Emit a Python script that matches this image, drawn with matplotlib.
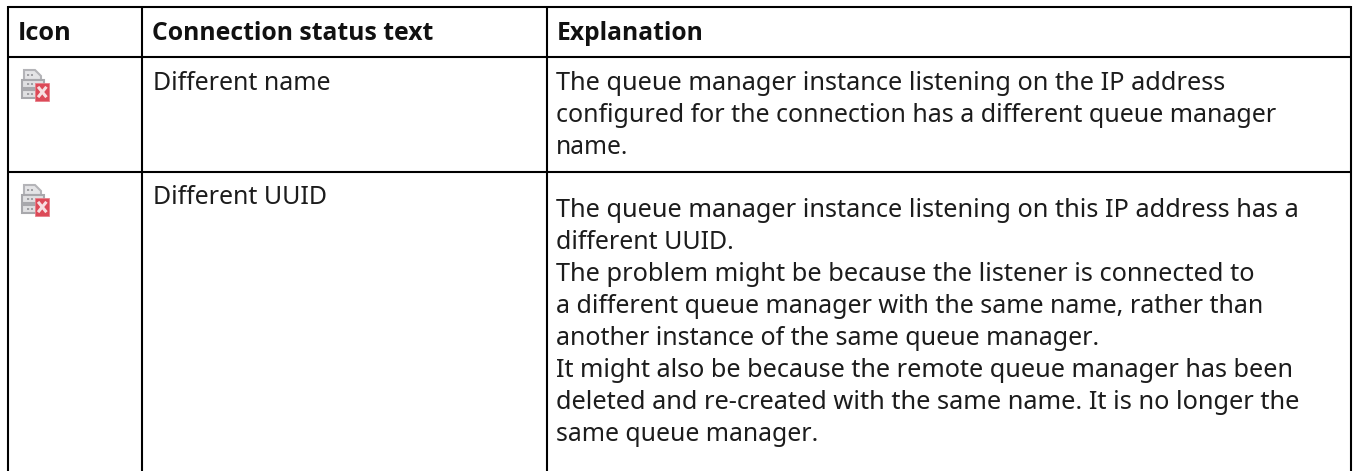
import matplotlib
matplotlib.use("Agg")
import matplotlib.pyplot as plt
from matplotlib.patches import Polygon, Rectangle

W, H = 1353, 471

HEADERS = ["Icon", "Connection status text", "Explanation"]
HEADER_ENDS = [72, 433, 704]
STATUS = ["Different name", "Different UUID"]
EXPLAIN_1 = [
    "The queue manager instance listening on the IP address",
    "configured for the connection has a different queue manager",
    "name.",
]
EXPLAIN_1_ENDS = [1224, 1277, 628]
EXPLAIN_2 = [
    "The queue manager instance listening on this IP address has a",
    "different UUID.",
    "The problem might be because the listener is connected to",
    "a different queue manager with the same name, rather than",
    "another instance of the same queue manager.",
    "It might also be because the remote queue manager has been",
    "deleted and re-created with the same name. It is no longer the",
    "same queue manager.",
]
EXPLAIN_2_ENDS = [1298, 733, 1254, 1264, 1099, 1293, 1300, 817]

COL_X = [8, 142, 547, 1351]
ROW_Y = [7, 57, 172]
BODY_FONT = "Noto Sans"
HEAD_FONT = "Open Sans"
FS = 18.0
LINE_H = 32


def fit_text(fig, text, x, end):
    # the original face is a little wider, nudge the size so the line ends line up
    width = text.get_window_extent(fig.canvas.get_renderer()).width
    text.set_fontsize(text.get_fontsize() * (end - x) / width)


def draw_icon(ax, x, y):
    # server stack with a folded corner and a red error badge
    ax.add_patch(Polygon([(x + 4, y + 2), (x + 15, y + 2), (x + 21, y + 8), (x + 21, y + 12), (x + 4, y + 12)],
                         closed=True, fc="#e4e4e6", ec="#b4b4b8", lw=1.5))
    for dy in (12, 22):
        ax.add_patch(Rectangle((x + 2, y + dy), 22, 8, fc="#e0e0e2", ec="#a8a8ac", lw=1.5))
    for dy in (7, 16, 26):
        ax.plot([x + 7, x + 13], [y + dy, y + dy], color="#9a9a9e", lw=1.3, ls=(0, (1.2, 1)))
    ax.add_patch(Rectangle((x + 15, y + 15), 14, 18, fc="#dc4a58", ec="#e8808a", lw=0.6))
    ax.plot([x + 19, x + 25.5], [y + 20, y + 28], color="#f7dfe1", lw=2.2)
    ax.plot([x + 25.5, x + 19], [y + 20, y + 28], color="#f7dfe1", lw=2.2)


def main():
    fig = plt.figure(figsize=(W / 100, H / 100), dpi=100)
    ax = fig.add_axes([0, 0, 1, 1])
    ax.set_xlim(0, W)
    ax.set_ylim(H, 0)
    ax.axis("off")

    for x in COL_X:
        ax.plot([x, x], [ROW_Y[0] - 1, H], color="black", lw=1.5, solid_capstyle="butt")
    for y in ROW_Y:
        ax.plot([COL_X[0], COL_X[-1]], [y, y], color="black", lw=1.5, solid_capstyle="butt")

    for x, label, end in zip(COL_X, HEADERS, HEADER_ENDS):
        t = ax.text(x + 10, 40, label, fontsize=FS, fontweight="bold", family=HEAD_FONT,
                    va="baseline", color="#111111")
        fit_text(fig, t, x + 10, end)

    ax.text(153, 90, STATUS[0], fontsize=FS, family=BODY_FONT, va="baseline", color="#1c1c1c")
    ax.text(153, 204, STATUS[1], fontsize=FS, family=BODY_FONT, va="baseline", color="#1c1c1c")

    for i, (line, end) in enumerate(zip(EXPLAIN_1, EXPLAIN_1_ENDS)):
        t = ax.text(556, 90 + i * LINE_H, line, fontsize=FS, family=BODY_FONT, va="baseline", color="#1c1c1c")
        fit_text(fig, t, 556, end)
    for i, (line, end) in enumerate(zip(EXPLAIN_2, EXPLAIN_2_ENDS)):
        t = ax.text(556, 217 + i * LINE_H, line, fontsize=FS, family=BODY_FONT, va="baseline", color="#1c1c1c")
        fit_text(fig, t, 556, end)

    draw_icon(ax, 20, 68)
    draw_icon(ax, 20, 183)

    fig.savefig("out.png", dpi=100)


if __name__ == "__main__":
    main()
